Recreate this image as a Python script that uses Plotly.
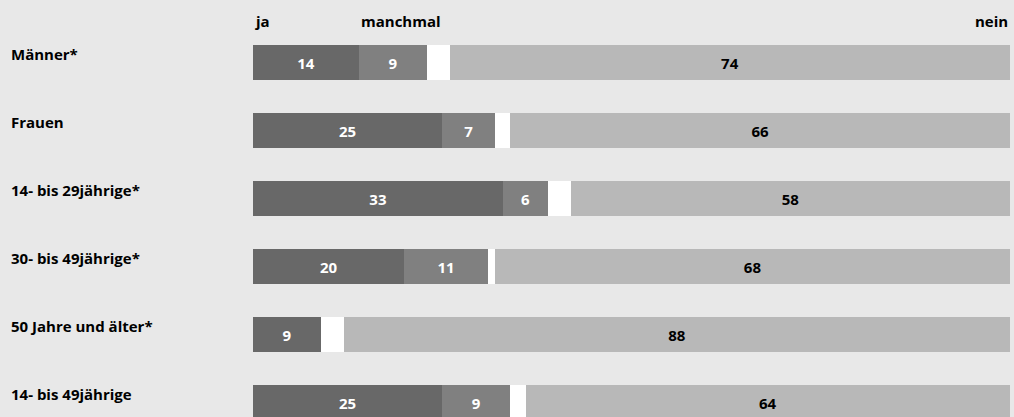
import plotly.graph_objects as go

categories = ["Männer*", "Frauen", "14- bis 29jährige*", "30- bis 49jährige*",
              "50 Jahre und älter*", "14- bis 49jährige"]
ja = [14, 25, 33, 20, 9, 25]
manchmal = [9, 7, 6, 11, None, 9]
keine_angabe = [3, 2, 3, 1, 3, 2]
nein = [74, 66, 58, 68, 88, 64]
header_labels = ["ja", "manchmal", "nein"]

FONT = "Open Sans"
FS = 15
ypos = list(range(len(categories)))

def txt(vals):
    return ["" if v is None else str(v) for v in vals]

fig = go.Figure()
series = [
    ("ja", ja, "#686868", "white", True),
    ("manchmal", manchmal, "#808080", "white", True),
    ("keine Angabe", keine_angabe, "#ffffff", "white", False),
    ("nein", nein, "#b8b8b8", "black", True),
]
for name, vals, col, tcol, show in series:
    fig.add_trace(go.Bar(
        y=ypos, x=vals, orientation="h", name=name,
        marker=dict(color=col, line=dict(width=0)),
        width=0.515,
        text=txt(vals) if show else None,
        textposition="inside" if show else "none",
        insidetextanchor="middle",
        textangle=0,
        textfont=dict(family=FONT, size=FS, color=tcol, weight="bold"),
        hoverinfo="skip",
    ))

annotations = []
for i, c in enumerate(categories):
    annotations.append(dict(
        x=-0.322, xref="paper", y=i - 0.125, yref="y", text=c,
        showarrow=False, xanchor="left", yanchor="middle",
        font=dict(family=FONT, size=FS, color="black", weight="bold")))

header_x = [0, ja[0], 100]
header_anchor = ["left", "left", "right"]
for lab, hx, anc in zip(header_labels, header_x, header_anchor):
    annotations.append(dict(
        x=hx, xref="x", y=1.02, yref="paper", text=lab,
        showarrow=False, xanchor=anc, yanchor="middle",
        font=dict(family=FONT, size=FS, color="black", weight="bold")))

fig.update_layout(
    width=1014, height=417,
    margin=dict(l=253, r=4, t=28.5, b=0),
    paper_bgcolor="#e8e8e8", plot_bgcolor="#e8e8e8",
    barmode="stack", showlegend=False,
    xaxis=dict(range=[0, 100], visible=False, fixedrange=True),
    yaxis=dict(range=[5.213, -0.5], visible=False, fixedrange=True),
    annotations=annotations,
    uniformtext=dict(minsize=8, mode="show"),
)

fig.write_html("out.html", config={"displayModeBar": False},
               post_script="document.body.style.margin='0';document.body.style.overflow='hidden';")
